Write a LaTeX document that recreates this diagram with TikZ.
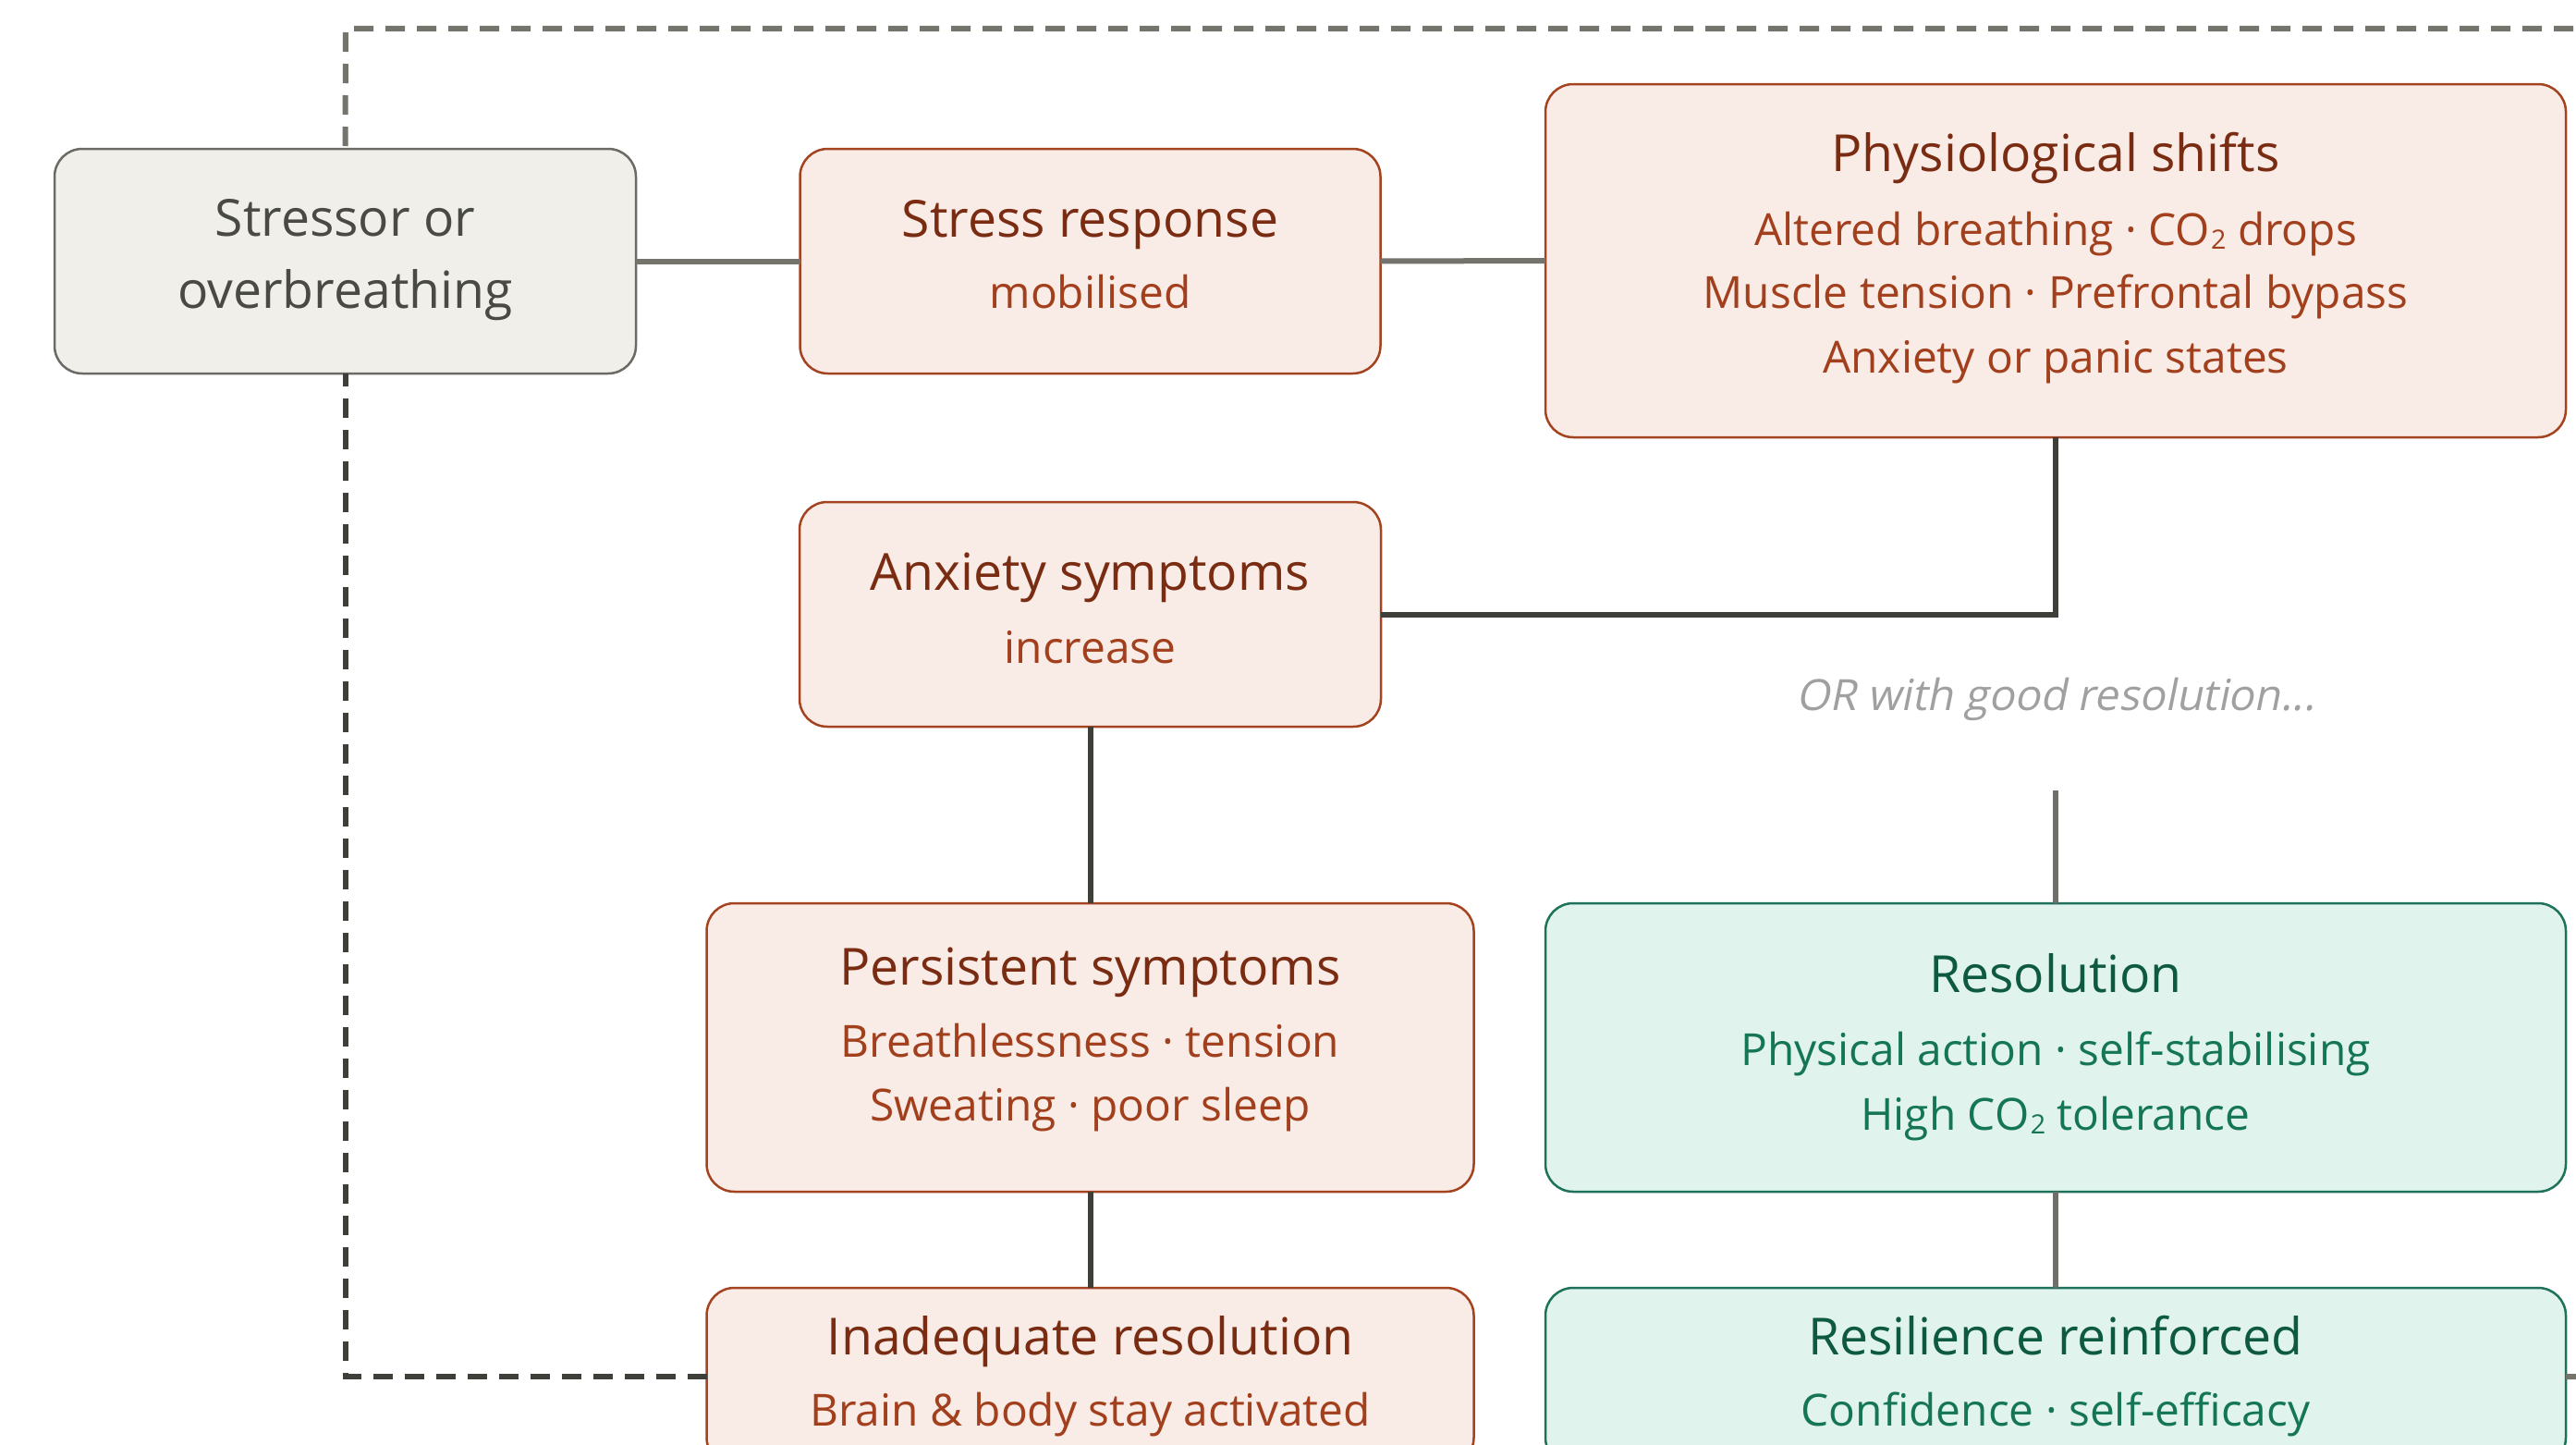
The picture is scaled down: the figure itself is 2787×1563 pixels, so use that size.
\documentclass[tikz,border=0pt]{standalone}
\usepackage{fontspec}
\usepackage{graphicx}
\setmainfont{Open Sans}[AutoFakeSlant=0.2]
\usetikzlibrary{calc}
\definecolor{rFill}{HTML}{F9EBE6}
\definecolor{rLine}{HTML}{A4431F}
\definecolor{rTitle}{HTML}{7A2C12}
\definecolor{rSub}{HTML}{A23F1C}
\definecolor{gFill}{HTML}{E0F3EC}
\definecolor{gLine}{HTML}{1E7259}
\definecolor{gTitle}{HTML}{0D5A41}
\definecolor{gSub}{HTML}{157656}
\definecolor{nFill}{HTML}{F1EFE9}
\definecolor{nLine}{HTML}{6B6A65}
\definecolor{nText}{HTML}{4A4A45}
\definecolor{lnLight}{HTML}{74736C}
\definecolor{lnDark}{HTML}{3F3F3A}
\definecolor{lnMid}{HTML}{6F6E6A}
\definecolor{noteGray}{HTML}{A0A0A0}
\newlength\mwA
\newlength\sumT
\newlength\sumS
\newcommand\addT[1]{\settowidth\mwA{\fontsize{50}{60}\selectfont #1}\global\advance\sumT by \mwA}
\newcommand\addS[1]{\settowidth\mwA{\fontsize{50}{60}\selectfont #1}\global\advance\sumS by \mwA}
\newcommand\cotwo{CO\iffontchar\font"2082 ₂\else\kern0.03em\raisebox{-0.1em}{\scalebox{0.6}{2}}\fi}
\AtBeginDocument{%
\global\sumT=0pt \global\sumS=0pt
\addT{Physiological shifts}\addT{Stress response}\addT{Persistent symptoms}%
\addT{Inadequate resolution}\addT{Anxiety symptoms}\addT{Resilience reinforced}%
\addS{Muscle tension · Prefrontal bypass}\addS{Anxiety or panic states}%
\addS{Breathlessness · tension}\addS{Physical action · self-stabilising}%
\addS{Brain \& body stay activated}\addS{Confidence · self-efficacy}\addS{Sweating · poor sleep}%
\settowidth\mwA{\fontsize{50}{60}\selectfont\itshape OR with good resolution...}%
\pgfmathsetmacro\tszL{3015/\sumT*50}\global\let\tsz\tszL
\pgfmathsetmacro\sszL{4120/\sumS*50}\global\let\ssz\sszL
\pgfmathsetmacro\oszL{561/\mwA*50}\global\let\osz\oszL
}
\tikzset{
  box/.style={draw, rounded corners=30, line width=2.5, inner sep=0, outer sep=0},
  rbox/.style={box, draw=rLine, fill=rFill},
  gbox/.style={box, draw=gLine, fill=gFill},
  nbox/.style={box, draw=nLine, fill=nFill},
  txt/.style={anchor=base, inner sep=0, outer sep=0},
  ttl/.style={txt, font=\fontsize{\tsz}{\tsz}\selectfont},
  sbt/.style={txt, font=\fontsize{\ssz}{\ssz}\selectfont},
  conn/.style={line width=6},
  loopline/.style={line width=6, dash pattern=on 21pt off 13pt},
}
\begin{document}
\begin{tikzpicture}[x=1pt,y=-1pt]
\useasboundingbox (0,0) rectangle (2787,1563);
\fill[white] (0,0) rectangle (2787,1563);
\clip (0,0) rectangle (2787,1563);

% boxes
\node[nbox, minimum width=629, minimum height=243] (stressor) at (373.5,282.5) {};
\node[rbox, minimum width=628, minimum height=243] (stress) at (1179.5,282.5) {};
\node[rbox, minimum width=1104, minimum height=382] (physio) at (2224,282) {};
\node[rbox, minimum width=629, minimum height=243] (anxiety) at (1179.5,664.5) {};
\node[rbox, minimum width=830, minimum height=312] (persist) at (1179.5,1133) {};
\node[gbox, minimum width=1104, minimum height=312] (resol) at (2224,1133) {};
\node[rbox, minimum width=830, minimum height=192] (inadeq) at (1179.5,1489) {};
\node[gbox, minimum width=1104, minimum height=192] (resil) at (2224,1489) {};

% loop coordinates
\coordinate (loopR) at (2850,1489);
\coordinate (loopTR) at (2850,31);
\coordinate (loopTL) at (374,31);
\coordinate (noteEnd) at (2224,855);

% connectors
\draw[conn, lnLight] (stressor.east) -- (stress.west);
\draw[conn, lnLight] (stress.east) -- (physio.west);
\draw[conn, lnDark] (physio.south) |- (anxiety.east);
\draw[conn, lnDark] (anxiety.south) -- (persist.north);
\draw[conn, lnDark] (persist.south) -- (inadeq.north);
\draw[conn, lnMid] (noteEnd) -- (resol.north);
\draw[conn, lnMid] (resol.south) -- (resil.north);
\draw[loopline, lnDark] (inadeq.west) -| (stressor.south);
\draw[loopline, lnLight] (resil.east) -- (loopR) -- (loopTR) -- (loopTL) -- (stressor.north);

% texts
\node[ttl, nText] (stressorA) at (373.5,255) {Stressor or};
\node[ttl, nText] (stressorB) at (373.5,333) {overbreathing};

\node[ttl, rTitle] (stressA) at (1179.5,256) {Stress response};
\node[sbt, rSub] (stressB) at (1179.5,333) {mobilised};

\node[ttl, rTitle] (physA) at (2224,185) {Physiological shifts};
\node[sbt, rSub] (physB) at (2224,265) {Altered breathing · \cotwo\ drops};
\node[sbt, rSub] (physC) at (2224,333) {Muscle tension · Prefrontal bypass};
\node[sbt, rSub] (physD) at (2224,403) {Anxiety or panic states};

\node[ttl, rTitle] (anxA) at (1179.5,638) {Anxiety symptoms};
\node[sbt, rSub] (anxB) at (1179.5,717) {increase};

\node[txt, noteGray, font=\fontsize{\osz}{\osz}\selectfont\itshape] (note) at (2224,768) {OR with good resolution...};

\node[ttl, rTitle] (persA) at (1179.5,1065) {Persistent symptoms};
\node[sbt, rSub] (persB) at (1179.5,1143) {Breathlessness · tension};
\node[sbt, rSub] (persC) at (1179.5,1212) {Sweating · poor sleep};

\node[ttl, gTitle] (resA) at (2224,1073) {Resolution};
\node[sbt, gSub] (resB) at (2224,1152) {Physical action · self-stabilising};
\node[sbt, gSub] (resC) at (2224,1222) {High \cotwo\ tolerance};

\node[ttl, rTitle] (inaA) at (1179.5,1465) {Inadequate resolution};
\node[sbt, rSub] (inaB) at (1179.5,1542) {Brain \& body stay activated};

\node[ttl, gTitle] (rslA) at (2224,1465) {Resilience reinforced};
\node[sbt, gSub] (rslB) at (2224,1542) {Confidence · self-efficacy};
\end{tikzpicture}
\end{document}
